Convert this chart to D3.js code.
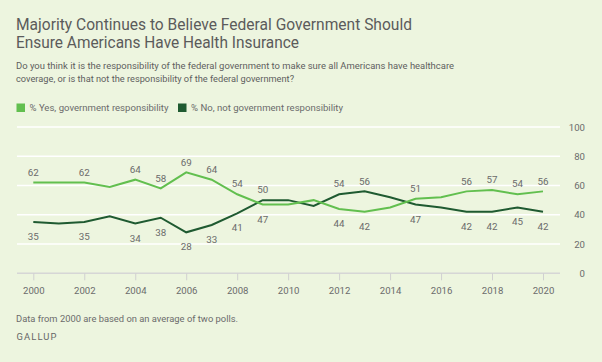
<!DOCTYPE html>
<html>
<head>
<meta charset="utf-8">
<script src="https://cdn.jsdelivr.net/npm/d3@7"></script>
<style>
  body { margin: 0; background: #edf5df; }
  svg text { font-family: Roboto, "Noto Sans", sans-serif; }
</style>
</head>
<body>
<div id="chart"></div>
<script>
// Width and height
var chart_width  = 602;
var chart_height = 362;

var years   = [2000, 2001, 2002, 2003, 2004, 2005, 2006, 2007, 2008, 2009, 2010,
               2011, 2012, 2013, 2014, 2015, 2016, 2017, 2018, 2019, 2020];
var yesVals = [62, 62, 62, 59, 64, 58, 69, 64, 54, 47, 47,
               50, 44, 42, 45, 51, 52, 56, 57, 54, 56];
var noVals  = [35, 34, 35, 39, 34, 38, 28, 33, 41, 50, 50,
               46, 54, 56, 52, 47, 45, 42, 42, 45, 42];
// years that get value labels
var labelYears = [2000, 2002, 2004, 2005, 2006, 2007, 2008, 2009,
                  2012, 2013, 2015, 2017, 2018, 2019, 2020];
var yTicks  = [0, 20, 40, 60, 80, 100];
var xTicks  = [2000, 2002, 2004, 2006, 2008, 2010, 2012, 2014, 2016, 2018, 2020];

var yesColor = '#62bf4f';
var noColor  = '#1f5a31';
var textColor = '#6b6b6b';

var svg = d3.select('#chart')
    .append('svg')
    .attr('width', chart_width)
    .attr('height', chart_height);

svg.append('rect')
    .attr('width', chart_width)
    .attr('height', chart_height)
    .attr('fill', '#edf5df');

// Titles
var title = svg.append('text')
    .attr('fill', '#5b5b5b')
    .style('font-size', '16.5px');
title.append('tspan').attr('x', 16).attr('y', 29.5)
    .attr('textLength', 396).attr('lengthAdjust', 'spacingAndGlyphs')
    .text('Majority Continues to Believe Federal Government Should');
title.append('tspan').attr('x', 16).attr('y', 48)
    .attr('textLength', 283).attr('lengthAdjust', 'spacingAndGlyphs')
    .text('Ensure Americans Have Health Insurance');

var sub = svg.append('text')
    .attr('fill', '#5e5e5e')
    .style('font-size', '9.4px');
sub.append('tspan').attr('x', 16).attr('y', 69)
    .attr('textLength', 438).attr('lengthAdjust', 'spacingAndGlyphs')
    .text('Do you think it is the responsibility of the federal government to make sure all Americans have healthcare');
sub.append('tspan').attr('x', 16).attr('y', 82)
    .attr('textLength', 278).attr('lengthAdjust', 'spacingAndGlyphs')
    .text('coverage, or is that not the responsibility of the federal government?');

// Legend
var legendItems = [
    { label: '% Yes, government responsibility', color: yesColor, x: 16.5, w: 139 },
    { label: '% No, not government responsibility', color: noColor, x: 178, w: 152 }
];
var lg = svg.selectAll('.legend')
    .data(legendItems)
    .enter()
    .append('g')
    .attr('class', 'legend')
    .attr('transform', function(d){ return 'translate(' + d.x + ',103.5)'; });
lg.append('rect')
    .attr('width', 8.5)
    .attr('height', 8.5)
    .attr('fill', function(d){ return d.color; });
lg.append('text')
    .attr('x', 13)
    .attr('y', 7.8)
    .attr('fill', textColor)
    .attr('textLength', function(d){ return d.w; })
    .attr('lengthAdjust', 'spacingAndGlyphs')
    .style('font-size', '9.4px')
    .text(function(d){ return d.label; });

// Scales
var x = d3.scaleLinear().domain([2000, 2020]).range([33.3, 543]);
var y = d3.scaleLinear().domain([0, 100]).range([273.3, 127]);

// Gridlines
svg.append('g')
    .selectAll('line')
    .data(yTicks.filter(function(d){ return d > 0; }))
    .enter()
    .append('line')
    .attr('x1', 17)
    .attr('x2', 560)
    .attr('y1', function(d){ return y(d); })
    .attr('y2', function(d){ return y(d); })
    .attr('stroke', '#ffffff')
    .attr('stroke-width', 1.5);

// Y axis on right
var yAxis = d3.axisRight(y).tickValues(yTicks).tickSize(0).tickPadding(0);
var gy = svg.append('g')
    .attr('transform', 'translate(585,0)')
    .call(yAxis);
gy.select('.domain').remove();
gy.selectAll('text')
    .attr('text-anchor', 'end')
    .attr('fill', textColor)
    .style('font-size', '9.6px');

// X axis
var xAxis = d3.axisBottom(x).tickValues(xTicks).tickFormat(d3.format('d'))
    .tickSize(7).tickSizeOuter(0).tickPadding(7);
var gx = svg.append('g')
    .attr('transform', 'translate(0,' + y(0) + ')')
    .call(xAxis);
gx.select('.domain')
    .attr('d', 'M17,0H560')
    .attr('stroke', '#d6d6d6')
    .attr('stroke-width', 1.5);
gx.selectAll('.tick line').attr('stroke', '#d0d0d0');
gx.selectAll('text')
    .attr('fill', textColor)
    .style('font-size', '9.6px');

// Lines
var line = d3.line()
    .x(function(d){ return x(d.year); })
    .y(function(d){ return y(d.value); });

function series(vals){
    return years.map(function(yr, i){ return { year: yr, value: vals[i] }; });
}

svg.append('path')
    .datum(series(noVals))
    .attr('d', line)
    .attr('fill', 'none')
    .attr('stroke', noColor)
    .attr('stroke-width', 2);

svg.append('path')
    .datum(series(yesVals))
    .attr('d', line)
    .attr('fill', 'none')
    .attr('stroke', yesColor)
    .attr('stroke-width', 2);

// Value labels: higher value above the line, lower value below
var labels = [];
years.forEach(function(yr, i){
    if (labelYears.indexOf(yr) < 0) return;
    var a = yesVals[i], b = noVals[i];
    labels.push({ year: yr, value: Math.max(a, b), pos: 'above' });
    labels.push({ year: yr, value: Math.min(a, b), pos: 'below' });
});

svg.append('g')
    .selectAll('text')
    .data(labels)
    .enter()
    .append('text')
    .attr('x', function(d){ return x(d.year); })
    .attr('y', function(d){
        return d.pos === 'above' ? y(d.value) - 6.8 : y(d.value) + 18;
    })
    .attr('text-anchor', 'middle')
    .attr('fill', textColor)
    .style('font-size', '9.8px')
    .text(function(d){ return d.value; });

// Footer
svg.append('text')
    .attr('x', 16)
    .attr('y', 321.7)
    .attr('fill', textColor)
    .attr('textLength', 222)
    .attr('lengthAdjust', 'spacingAndGlyphs')
    .style('font-size', '9.4px')
    .text('Data from 2000 are based on an average of two polls.');

svg.append('text')
    .attr('x', 16.5)
    .attr('y', 340)
    .attr('fill', '#666')
    .attr('textLength', 40)
    .style('font-size', '9.4px')
    .text('GALLUP');
</script>
</body>
</html>
